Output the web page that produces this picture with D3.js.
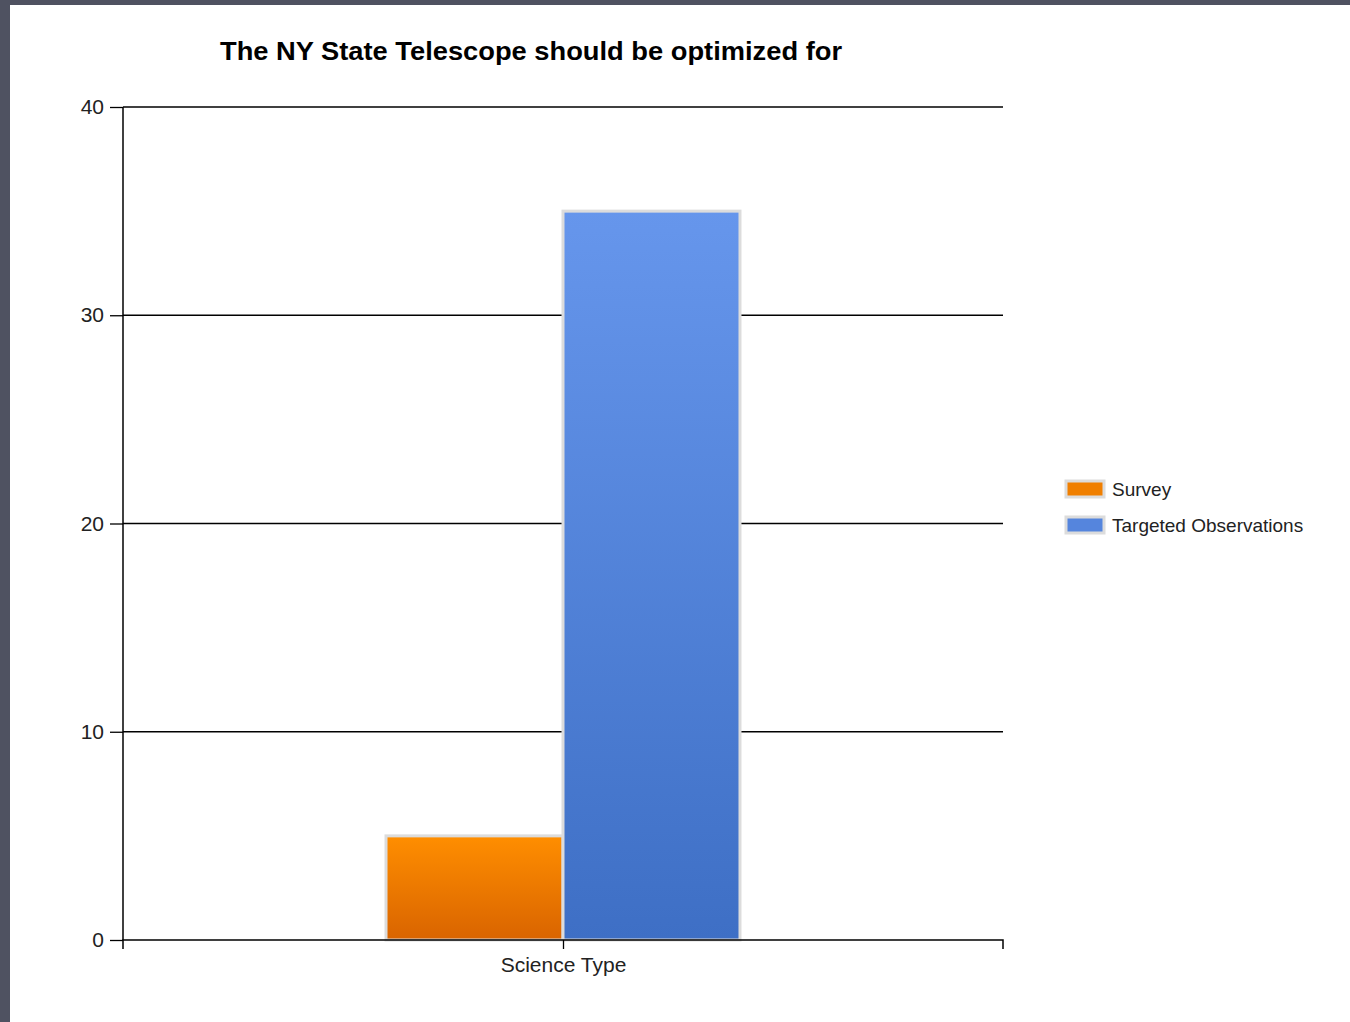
<!DOCTYPE html>
<html><head><meta charset="utf-8">
<script src="https://cdn.jsdelivr.net/npm/d3@7"></script>
<style>html,body{margin:0;padding:0;background:#4a4d5a;overflow:hidden}</style>
</head><body>
<script>
const categories = ["Science Type"];
const seriesNames = ["Survey", "Targeted Observations"];
const surveyValues = [5];
const targetedValues = [35];
const yTicks = [0, 10, 20, 30, 40];
const titleText = "The NY State Telescope should be optimized for";

(function () {
const W = 1350, H = 1022;
const svg = d3.select("body").append("svg").attr("width", W).attr("height", H);
const defs = svg.append("defs");
const grads = [["gOrange", "#ff8e00", "#d96400"], ["gBlue", "#6696ec", "#3e6fc5"]];
grads.forEach(([id, c1, c2]) => {
  const g = defs.append("linearGradient").attr("id", id).attr("x1", 0).attr("y1", 0).attr("x2", 0).attr("y2", 1);
  g.append("stop").attr("offset", "0%").attr("stop-color", c1);
  g.append("stop").attr("offset", "100%").attr("stop-color", c2);
});

svg.append("rect").attr("width", W).attr("height", H).attr("fill", "#4f5261");
svg.append("rect").attr("x", 10).attr("y", 5).attr("width", W - 10).attr("height", H - 5).attr("fill", "#ffffff");

const mLeft = 123, mRight = 1003, mTop = 107, mBottom = 940;
const y = d3.scaleLinear().domain([0, 40]).range([mBottom, mTop]);
const x0 = d3.scaleBand().domain(categories).range([mLeft, mRight]).paddingInner(0).paddingOuter(0.743);
const x1 = d3.scaleBand().domain(seriesNames).range([0, x0.bandwidth()]);

const font = "'Liberation Sans', Arial, sans-serif";

// gridlines
svg.append("g").selectAll("line").data(yTicks.filter(d => d > 0)).join("line")
  .attr("x1", mLeft).attr("x2", mRight).attr("y1", d => y(d)).attr("y2", d => y(d))
  .attr("stroke", "#000").attr("stroke-width", 1.3);

// y axis
const yAxis = svg.append("g").attr("transform", `translate(${mLeft},0)`)
  .call(d3.axisLeft(y).tickValues(yTicks).tickSize(13).tickPadding(6).tickFormat(d3.format("d")));
yAxis.select(".domain").attr("stroke", "#000").attr("stroke-width", 1.5).attr("d", `M0,${mTop}V${mBottom}`);
yAxis.selectAll(".tick line").attr("stroke", "#000").attr("stroke-width", 1.3);
yAxis.selectAll("text").attr("font-family", font).attr("font-size", 21).attr("fill", "#222");

// bars
const data = categories.map((c, i) => ({ cat: c, vals: [surveyValues[i], targetedValues[i]] }));
const fills = ["url(#gOrange)", "url(#gBlue)"];
data.forEach(d => {
  d.vals.forEach((v, j) => {
    const bx = x0(d.cat) + x1(seriesNames[j]);
    svg.append("rect")
      .attr("x", bx).attr("y", y(v))
      .attr("width", x1.bandwidth()).attr("height", y(0) - y(v))
      .attr("fill", fills[j]).attr("stroke", "#dcdcdc").attr("stroke-width", 3);
  });
});

// x axis
const xAxis = svg.append("g").attr("transform", `translate(0,${mBottom})`)
  .call(d3.axisBottom(d3.scalePoint().domain(categories).range([mLeft, mRight]).padding(0.5)).tickSize(9).tickPadding(8));
xAxis.select(".domain").attr("stroke", "#000").attr("stroke-width", 1.5).attr("d", `M${mLeft},9V0H${mRight}V9`);
xAxis.selectAll(".tick line").attr("stroke", "#000").attr("stroke-width", 1.3);
xAxis.selectAll("text").attr("font-family", font).attr("font-size", 21).attr("fill", "#222");

// title
svg.append("text").attr("x", 531).attr("y", 60).attr("text-anchor", "middle")
  .attr("font-family", font).attr("font-weight", "bold").attr("font-size", 25)
  .attr("textLength", 622).attr("lengthAdjust", "spacingAndGlyphs")
  .attr("fill", "#000").text(titleText);

// legend
const legendColors = ["#f07f00", "#5585dd"];
const lg = svg.append("g");
seriesNames.forEach((s, i) => {
  const ly = 489 + i * 36;
  lg.append("rect").attr("x", 1066).attr("y", ly - 8).attr("width", 38).attr("height", 16)
    .attr("fill", legendColors[i]).attr("stroke", "#dcdcdc").attr("stroke-width", 3);
  lg.append("text").attr("x", 1112).attr("y", ly + 7).attr("font-family", font).attr("font-size", 19)
    .attr("fill", "#222").text(s);
});
})();
</script>
</body></html>
